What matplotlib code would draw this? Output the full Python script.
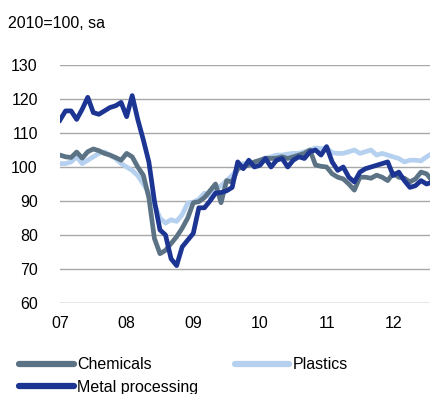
import numpy as np
import matplotlib
matplotlib.use("Agg")
import matplotlib.pyplot as plt

plt.rcParams['font.family'] = ['Liberation Sans', 'DejaVu Sans']

# Monthly index values, Jan 2007 onwards (2010=100, seasonally adjusted)
chemicals = [103.5, 103, 102.8, 104.4, 102.6, 104.5, 105.3, 104.8, 104, 103.5, 102.8, 102,
             104, 103, 100, 97.6, 91, 79, 74.5, 75.5, 77.5, 79.5, 82, 85,
             89.5, 89.8, 91, 93, 95, 89.5, 96, 95.6, 99.5, 100, 100.6, 101.5,
             102, 102.6, 102.5, 102.6, 103, 102.5, 103, 103.5, 104, 105, 100.6, 100.2,
             100, 98, 97, 96.5, 95, 93.2, 97, 97, 96.7, 97.6, 97, 96,
             98.2, 97, 96.7, 95.6, 96.5, 98.5, 98, 96]
plastics = [101, 101, 101.5, 103, 101, 102, 103, 104, 104.4, 103.5, 102.5, 101,
            100, 99, 97.5, 95, 92.3, 89, 85, 83.5, 84.5, 84, 86, 89.4,
            89.7, 90.5, 92.3, 91.2, 93.5, 94.5, 96, 97.5, 99.5, 101, 101, 101,
            101.5, 102.5, 103, 103.5, 103.5, 103.8, 104, 104, 104.5, 105, 105.6, 105.4,
            105.6, 104.2, 104, 104, 104.5, 105, 104, 104.5, 105, 103.5, 104, 103.5,
            103, 102.5, 101.5, 102, 102, 101.8, 103, 104]
metal = [113.8, 116.5, 116.5, 114, 117, 120.5, 116, 115.5, 116.5, 117.5, 118, 119,
         114.8, 121, 114, 108, 101.5, 90, 81.5, 80, 73, 71, 76.5, 78.5,
         80.5, 88, 88, 90, 92.3, 92.5, 93, 94, 101.5, 99.5, 102, 100,
         100.5, 102.5, 100, 102, 102.5, 100, 102, 103, 102.5, 104.5, 105, 103.5,
         106, 101.5, 99, 100, 97, 95.6, 98.5, 99.5, 100, 100.5, 101, 101.5,
         97.5, 98.5, 96, 94, 94.5, 96, 95, 95.5]

year_labels = ['07', '08', '09', '10', '11', '12']
y_ticks = [60, 70, 80, 90, 100, 110, 120, 130]

c_chem = '#5c7385'
c_plast = '#b5d1ef'
c_metal = '#1c3593'

fig = plt.figure(figsize=(4.31, 3.94), dpi=100)
ax = fig.add_axes([60 / 431, 1 - 303 / 394, 1 - 60 / 431, (303 - 65) / 394])

months = np.arange(len(metal))
lw = 3.4
l_chem, = ax.plot(months, chemicals, color=c_chem, lw=lw, label='Chemicals', solid_joinstyle='round', zorder=3)
l_plast, = ax.plot(months, plastics, color=c_plast, lw=lw, label='Plastics', solid_joinstyle='round', zorder=2)
l_metal, = ax.plot(months, metal, color=c_metal, lw=lw, label='Metal processing', solid_joinstyle='round', zorder=4)

ax.set_ylim(60, 130)
ax.set_xlim(0, 66.8)
ax.set_yticks(y_ticks)
ax.set_yticklabels([str(v) for v in y_ticks])
ax.set_xticks(np.arange(len(year_labels)) * 12)
ax.set_xticklabels(year_labels)
ax.tick_params(axis='both', length=0, labelsize=11.5, colors='black')
ax.tick_params(axis='y', pad=16)
ax.tick_params(axis='x', pad=9)

for v in y_ticks:
    ax.axhline(v, color='#a8a8a8' if v != 60 else '#808080', lw=1.0, zorder=1)
for s in ax.spines.values():
    s.set_visible(False)

fig.text(8 / 431, 1 - 23 / 394, '2010=100, sa', fontsize=11.5, va='center', ha='left')

# two columns, filled column-wise: Chemicals / Metal processing, then Plastics
leg = fig.legend([l_chem, l_metal, l_plast], ['Chemicals', 'Metal processing', 'Plastics'],
                 loc='upper left', bbox_to_anchor=(13 / 431, 1 - 351 / 394), ncol=2,
                 frameon=False, fontsize=11.5, handlelength=3.4, handletextpad=0.2,
                 columnspacing=2.3, labelspacing=0.45, borderaxespad=0)
for h in leg.get_lines():
    h.set_linewidth(4.5)
    h.set_solid_capstyle('round')

fig.savefig('out.png', dpi=100)
